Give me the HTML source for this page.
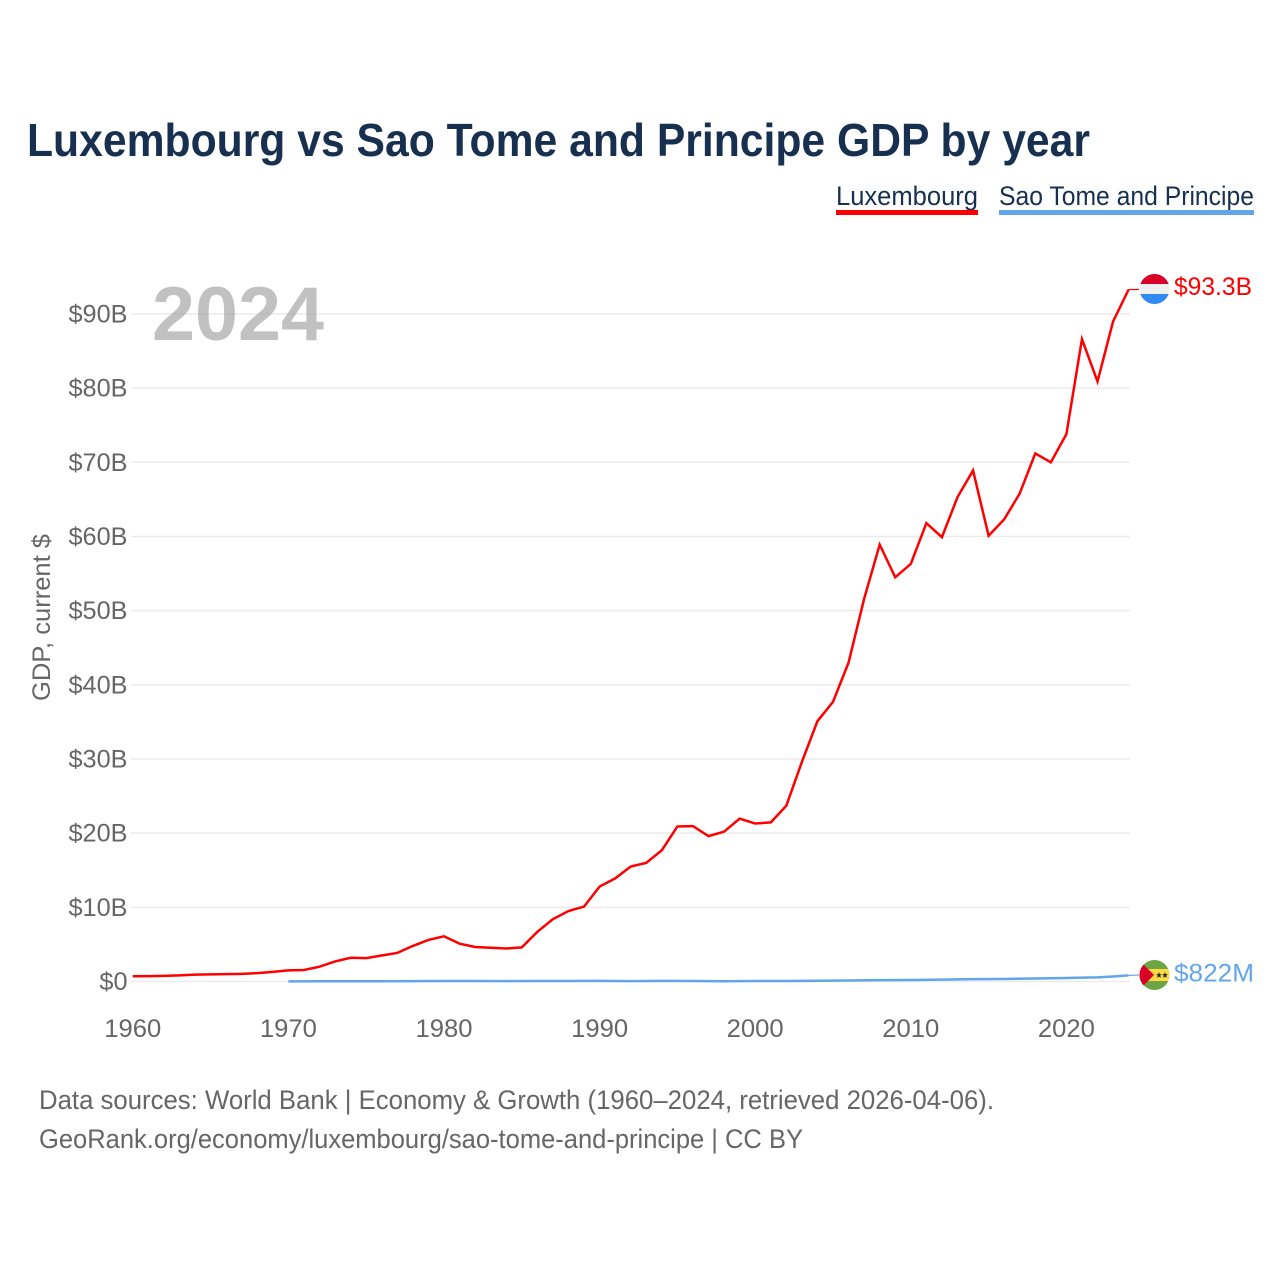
<!DOCTYPE html>
<html lang="en">
<head>
<meta charset="utf-8">
<title>Luxembourg vs Sao Tome and Principe GDP by year</title>
<style>
html,body{margin:0;padding:0;background:#fff;width:1280px;height:1280px;overflow:hidden}
svg{display:block}
text{font-family:"Liberation Sans",sans-serif}
</style>
</head>
<body>
<svg id="chart" xmlns="http://www.w3.org/2000/svg" width="1280" height="1280" viewBox="0 0 1280 1280">
<rect x="0" y="0" width="1280" height="1280" fill="#fff"/>
<text x="27" y="156" font-size="46" font-weight="700" fill="#17304f" textLength="1063" lengthAdjust="spacingAndGlyphs">Luxembourg vs Sao Tome and Principe GDP by year</text>
<g>
<text x="836" y="205" font-size="27" fill="#17304f" textLength="142" lengthAdjust="spacingAndGlyphs">Luxembourg</text>
<rect x="836" y="210" width="142" height="5" fill="#ff0000"/>
</g>
<g>
<text x="999" y="205" font-size="27" fill="#17304f" textLength="255" lengthAdjust="spacingAndGlyphs">Sao Tome and Principe</text>
<rect x="999" y="210" width="255" height="5" fill="#63a5ea"/>
</g>
<g id="grid"></g>
<text x="152" y="340" font-size="76" font-weight="700" fill="#a6a6a6" fill-opacity="0.7" textLength="172" lengthAdjust="spacingAndGlyphs">2024</text>
<g id="yticks"></g>
<g id="xticks"></g>
<text transform="translate(50,701) rotate(-90)" x="0" y="0" font-size="25" fill="#666" textLength="167" lengthAdjust="spacingAndGlyphs">GDP, current $</text>
<g id="series"></g>
<defs>
<clipPath id="clip-lux"><circle cx="1154.5" cy="289" r="15"/></clipPath>
<clipPath id="clip-stp"><circle cx="1154.5" cy="975" r="15"/></clipPath>
</defs>
<g clip-path="url(#clip-lux)">
<rect x="1139" y="273" width="31" height="11" fill="#d80027"/>
<rect x="1139" y="284" width="31" height="10" fill="#f0f0f0"/>
<rect x="1139" y="294" width="31" height="11" fill="#338af3"/>
</g>
<g clip-path="url(#clip-stp)">
<rect x="1139" y="959" width="31" height="32" fill="#6da544"/>
<rect x="1139" y="969" width="31" height="12" fill="#ffda44"/>
<polygon points="1139,960 1154,975 1139,990" fill="#d80027"/>
<polygon points="1159,972 1159.8,974.2 1162,974.2 1160.2,975.6 1160.9,978 1159,976.6 1157.1,978 1157.8,975.6 1156,974.2 1158.2,974.2" fill="#222"/>
<polygon points="1165,972 1165.8,974.2 1168,974.2 1166.2,975.6 1166.9,978 1165,976.6 1163.1,978 1163.8,975.6 1162,974.2 1164.2,974.2" fill="#222"/>
</g>
<text id="label-lux" x="1174" y="295" font-size="25" fill="#ff0000" textLength="78" lengthAdjust="spacingAndGlyphs">$93.3B</text>
<text id="label-stp" x="1174" y="981.5" font-size="25" fill="#63a5ea" textLength="80" lengthAdjust="spacingAndGlyphs">$822M</text>
<text x="39" y="1109" font-size="27" fill="#666" textLength="955" lengthAdjust="spacingAndGlyphs">Data sources: World Bank | Economy &amp; Growth (1960–2024, retrieved 2026-04-06).</text>
<text x="39" y="1148" font-size="27" fill="#666" textLength="764" lengthAdjust="spacingAndGlyphs">GeoRank.org/economy/luxembourg/sao-tome-and-principe | CC BY</text>
</svg>
<script>
var luxYears = [1960,1961,1962,1963,1964,1965,1966,1967,1968,1969,1970,1971,1972,1973,1974,1975,1976,1977,1978,1979,1980,1981,1982,1983,1984,1985,1986,1987,1988,1989,1990,1991,1992,1993,1994,1995,1996,1997,1998,1999,2000,2001,2002,2003,2004,2005,2006,2007,2008,2009,2010,2011,2012,2013,2014,2015,2016,2017,2018,2019,2020,2021,2022,2023,2024];
var luxValues = [0.70,0.72,0.76,0.83,0.93,0.96,1.0,1.02,1.13,1.3,1.5,1.55,2.0,2.7,3.2,3.15,3.5,3.85,4.8,5.6,6.1,5.1,4.65,4.55,4.45,4.6,6.7,8.4,9.5,10.1,12.8,13.9,15.5,16.0,17.7,20.9,20.95,19.6,20.2,21.95,21.3,21.45,23.7,29.6,35.1,37.7,43.0,51.6,58.9,54.5,56.3,61.8,59.9,65.3,68.9,60.1,62.3,65.8,71.2,70.0,73.8,86.6,80.9,89.0,93.3];
var stpYears = [1970,1972,1974,1976,1978,1980,1982,1984,1986,1988,1990,1992,1994,1996,1998,2000,2002,2004,2006,2008,2010,2012,2014,2016,2018,2020,2021,2022,2023,2024];
var stpValues = [0.02,0.03,0.04,0.04,0.05,0.06,0.06,0.05,0.07,0.06,0.08,0.05,0.08,0.06,0.04,0.06,0.07,0.1,0.13,0.18,0.2,0.26,0.32,0.34,0.41,0.47,0.53,0.55,0.68,0.82];
var yTickValues = [0,10,20,30,40,50,60,70,80,90];
var yTickLabels = ["$0","$10B","$20B","$30B","$40B","$50B","$60B","$70B","$80B","$90B"];
var xTickValues = [1960,1970,1980,1990,2000,2010,2020];
var xTickLabels = ["1960","1970","1980","1990","2000","2010","2020"];

var NS = "http://www.w3.org/2000/svg";
function xScale(year){ return 132.8 + (year - 1960) * 15.56; }
function yScale(v){ return 981.5 - v * 7.417; }

var grid = document.getElementById("grid");
var yticks = document.getElementById("yticks");
var xticks = document.getElementById("xticks");
var series = document.getElementById("series");

yTickValues.forEach(function(v, i){
  var line = document.createElementNS(NS, "line");
  
  
  line.setAttribute("x1", 131);
  line.setAttribute("x2", 1130);
  line.setAttribute("y1", yScale(v));
  line.setAttribute("y2", yScale(v));
  line.setAttribute("stroke", "#ebebeb");
  line.setAttribute("stroke-width", "1.5");
  grid.appendChild(line);

  var t = document.createElementNS(NS, "text");
  
  
  t.setAttribute("x", 127.5);
  t.setAttribute("y", yScale(v) + 8.5);
  t.setAttribute("text-anchor", "end");
  t.setAttribute("font-size", "25");
  t.setAttribute("fill", "#666");
  t.textContent = yTickLabels[i];
  yticks.appendChild(t);
  t.setAttribute("textLength", (t.getComputedTextLength() * 1.01).toFixed(1));
  t.setAttribute("lengthAdjust", "spacingAndGlyphs");
});

xTickValues.forEach(function(v, i){
  var t = document.createElementNS(NS, "text");
  
  
  t.setAttribute("x", xScale(v));
  t.setAttribute("y", 1037);
  t.setAttribute("text-anchor", "middle");
  t.setAttribute("font-size", "25");
  t.setAttribute("fill", "#666");
  t.textContent = xTickLabels[i];
  xticks.appendChild(t);
  t.setAttribute("textLength", "57");
  t.setAttribute("lengthAdjust", "spacingAndGlyphs");
});

function linePoints(years, values){
  return years.map(function(y, i){
    return xScale(y).toFixed(2) + "," + yScale(values[i]).toFixed(2);
  }).join(" ");
}

var stpLine = document.createElementNS(NS, "polyline");


stpLine.setAttribute("points", linePoints(stpYears, stpValues));
stpLine.setAttribute("fill", "none");
stpLine.setAttribute("stroke", "#63a5ea");
stpLine.setAttribute("stroke-width", "2.5");
series.appendChild(stpLine);

var luxLine = document.createElementNS(NS, "polyline");


luxLine.setAttribute("points", linePoints(luxYears, luxValues));
luxLine.setAttribute("fill", "none");
luxLine.setAttribute("stroke", "#ff0000");
luxLine.setAttribute("stroke-width", "2.5");
series.appendChild(luxLine);

var luxLead = document.createElementNS(NS, "line");


luxLead.setAttribute("x1", xScale(2024));
luxLead.setAttribute("x2", 1139);
luxLead.setAttribute("y1", yScale(luxValues[luxValues.length - 1]));
luxLead.setAttribute("y2", yScale(luxValues[luxValues.length - 1]));
luxLead.setAttribute("stroke", "#ff0000");
luxLead.setAttribute("stroke-width", "1.2");
series.appendChild(luxLead);

var stpLead = document.createElementNS(NS, "line");


stpLead.setAttribute("x1", xScale(2024));
stpLead.setAttribute("x2", 1139);
stpLead.setAttribute("y1", yScale(stpValues[stpValues.length - 1]));
stpLead.setAttribute("y2", 975);
stpLead.setAttribute("stroke", "#63a5ea");
stpLead.setAttribute("stroke-width", "1.2");
series.appendChild(stpLead);
</script>
</body>
</html>
